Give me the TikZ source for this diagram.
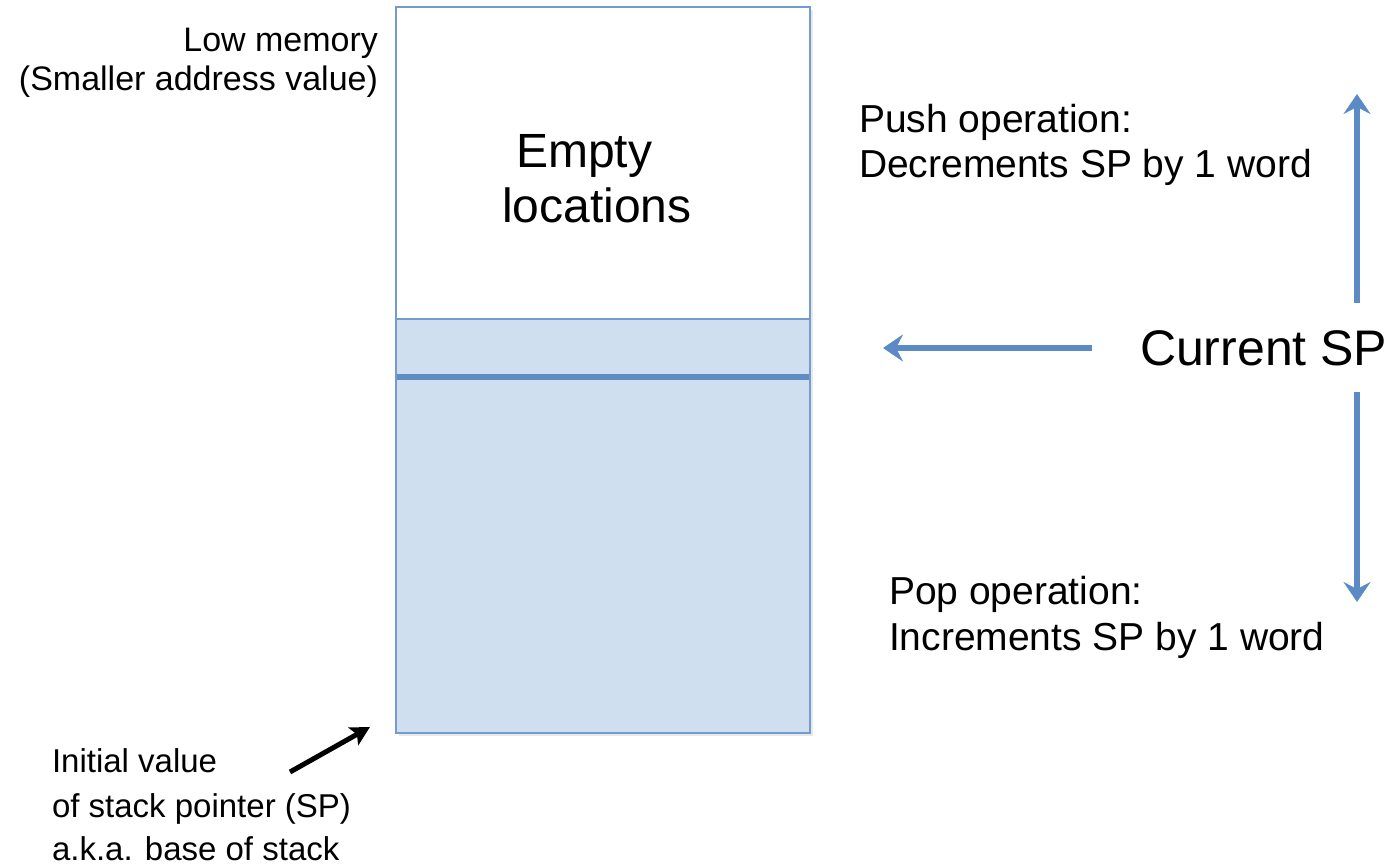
\documentclass[tikz,border=0pt]{standalone}
\usepackage{fontspec}
\setmainfont{Liberation Sans}
\usetikzlibrary{arrows.meta,shadows}
\definecolor{boxfill}{RGB}{208,223,240}
\definecolor{boxline}{RGB}{115,155,208}
\definecolor{sepline}{RGB}{96,140,196}
\definecolor{arrblue}{RGB}{92,138,197}
\tikzset{
  lbl/.style={inner sep=0pt, outer sep=0pt},
  sm/.style={lbl, font=\fontsize{34}{40}\selectfont},
  md/.style={lbl, font=\fontsize{39}{46}\selectfont},
  lg/.style={lbl, font=\fontsize{48}{55}\selectfont},
  xl/.style={lbl, font=\fontsize{50}{55}\selectfont},
  bl/.style={lbl, font=\fontsize{33}{44}\selectfont},
  memwall/.style={draw=boxline, line width=2pt},
  bluearrow/.style={draw=arrblue, line width=6pt, -{Stealth[length=20pt,width=27pt,inset=7pt]}},
  blackarrow/.style={draw=black, line width=5pt, -{Stealth[length=19pt,width=20pt,inset=4pt]}},
  shad/.style={drop shadow={opacity=0.18, shadow xshift=3pt, shadow yshift=-3pt}}
}
\begin{document}
\begin{tikzpicture}[x=1pt,y=-1pt]
\useasboundingbox (0,0) rectangle (1394,867);
% memory column
\draw[memwall, fill=white, shad] (396,7) rectangle (810,319);
\draw[memwall, fill=boxfill, shad] (396,319) rectangle (810,733);
\coordinate (sepL) at (397,377);
\coordinate (sepR) at (809,377);
\draw[sepline, line width=5.5pt] (sepL) -- (sepR);
% texts
\node[sm, anchor=base east] (low1) at (378,52) {Low memory};
\node[sm, anchor=base east] (low2) at (378,90) {(Smaller address value)};
\node[lg, anchor=base west] (emp1) at (516,167) {Empty};
\node[lg, anchor=base west] (emp2) at (502,222) {locations};
\node[md, anchor=base west] (push1) at (859,132) {Push operation:};
\node[md, anchor=base west] (push2) at (859,177) {Decrements SP by 1 word};
\node[xl, anchor=base west] (cur) at (1140,365) {Current SP};
\node[md, anchor=base west] (pop1) at (889,604) {Pop operation:};
\node[md, anchor=base west] (pop2) at (889,650) {Increments SP by 1 word};
\node[bl, anchor=base west] (ini1) at (52,772) {Initial value};
\node[bl, anchor=base west] (ini2) at (52,817) {of stack pointer (SP)};
\node[bl, anchor=base west] (ini3) at (52,860) {a.k.a. base of stack};
% arrows
\coordinate (lS) at (1092,348);
\coordinate (lE) at (883,348);
\coordinate (uS) at (1357,303);
\coordinate (uE) at (1357,94);
\coordinate (dS) at (1357,392);
\coordinate (dE) at (1357,602);
\coordinate (bS) at (290,772);
\coordinate (bE) at (370,727);
\draw[bluearrow] (lS) -- (lE);
\draw[bluearrow] (uS) -- (uE);
\draw[bluearrow] (dS) -- (dE);
\draw[blackarrow] (bS) -- (bE);
\end{tikzpicture}
\end{document}
